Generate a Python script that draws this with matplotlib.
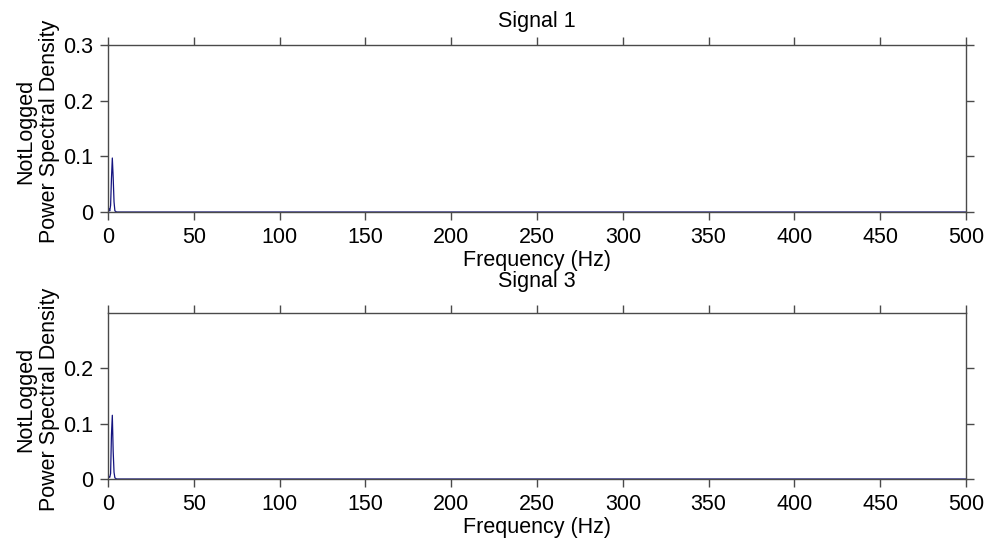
import matplotlib
matplotlib.use("Agg")
import matplotlib.pyplot as plt

plt.rcParams["font.family"] = ["Liberation Sans", "DejaVu Sans"]
plt.rcParams["font.size"] = 15.5

# spectrum values (only the low-frequency bump is non-zero)
freq_1 = [0, 0.5, 1.0, 1.5, 2.0, 2.5, 3.0, 3.5, 4.0, 5.0, 500]
psd_1 = [0.001, 0.006, 0.002, 0.012, 0.06, 0.097, 0.062, 0.018, 0.002, 0.0, 0.0]

freq_3 = [0, 0.5, 1.0, 1.5, 2.0, 2.5, 3.0, 3.5, 4.0, 5.0, 500]
psd_3 = [0.001, 0.004, 0.003, 0.01, 0.08, 0.115, 0.05, 0.012, 0.002, 0.0, 0.0]

titles = ["Signal 1", "Signal 3"]
x_ticks = [0, 50, 100, 150, 200, 250, 300, 350, 400, 450, 500]
y_ticks_1 = [0, 0.1, 0.2, 0.3]
y_ticks_3 = [0, 0.1, 0.2]
y_tick_labels_1 = ["0", "0.1", "0.2", "0.3"]
y_tick_labels_3 = ["0", "0.1", "0.2"]

line_color = "#14147f"
axis_color = "#4a4a4a"

fig = plt.figure(figsize=(9.92, 5.41), dpi=100)
ax1 = fig.add_axes([0.1089, 0.6081, 0.8649, 0.3087])
ax3 = fig.add_axes([0.1089, 0.1146, 0.8649, 0.3068])

panels = [
    (ax1, freq_1, psd_1, titles[0], y_ticks_1, y_tick_labels_1, 0.3, 13),
    (ax3, freq_3, psd_3, titles[1], y_ticks_3, y_tick_labels_3, 0.2995, 19),
]

for ax, f, p, title, yt, ytl, ytop, tpad in panels:
    ax.plot(f, p, color=line_color, linewidth=0.9)
    ax.set_xlim(0, 500)
    ax.set_ylim(0, ytop)
    ax.set_xticks(x_ticks)
    ax.set_yticks(yt)
    ax.set_yticklabels(ytl)
    ax.tick_params(direction="out", length=6, width=1, color=axis_color,
                   top=True, right=True, pad=5)
    for s in ax.spines.values():
        s.set_color(axis_color)
        s.set_linewidth(1)
    ax.set_xlabel("Frequency (Hz)", labelpad=1)
    ax.set_ylabel("NotLogged\nPower Spectral Density", linespacing=1.15)
    ax.yaxis.set_label_coords(-0.056, 0.48)
    ax.set_title(title, fontsize=15.5, pad=tpad)

fig.savefig("out.png", dpi=100)
